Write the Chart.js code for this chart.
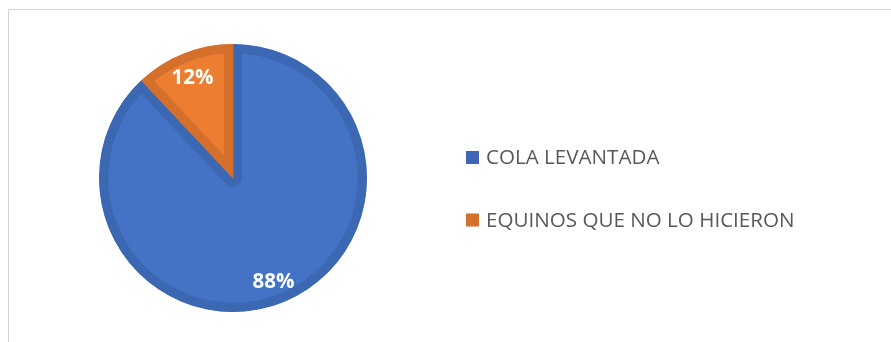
<!DOCTYPE html>
<html>
<head>
<meta charset="utf-8">
<script src="https://cdn.jsdelivr.net/npm/chart.js@4/dist/chart.umd.min.js"></script>
<style>
  html, body { margin: 0; padding: 0; background: #fff; }
  #wrap { position: relative; width: 891px; height: 342px; overflow: hidden; }
  #frame { position: absolute; left: 8px; top: 9px; width: 2000px; height: 2000px;
           border-left: 1px solid #d4d4d4; border-top: 1px solid #d4d4d4; box-sizing: border-box; }
  canvas { position: absolute; left: 0; top: 0; }
</style>
</head>
<body>
<div id="wrap">
  <div id="frame"></div>
  <canvas id="c" width="891" height="342"></canvas>
</div>
<script>
const categories = ["COLA LEVANTADA", "EQUINOS QUE NO LO HICIERON"];
const values = [88, 12];
const percentLabels = ["88%", "12%"];
const fillColors = ["#4472C4", "#ED7D31"];
const borderColors = ["#3C67B3", "#D46F2C"];

const labelPlugin = {
  id: 'sliceLabels',
  afterDatasetsDraw(chart) {
    const ctx = chart.ctx;
    const meta = chart.getDatasetMeta(0);
    ctx.save();
    ctx.font = 'bold 20.5px "Open Sans"';
    ctx.fillStyle = '#ffffff';
    ctx.textAlign = 'center';
    ctx.textBaseline = 'middle';
    meta.data.forEach((arc, i) => {
      const p = arc.getProps(['x', 'y', 'startAngle', 'endAngle', 'outerRadius'], true);
      const mid = (p.startAngle + p.endAngle) / 2;
      const r = p.outerRadius * 0.82;
      ctx.fillText(percentLabels[i], p.x + Math.cos(mid) * r, p.y + Math.sin(mid) * r + 2);
    });
    ctx.restore();
  }
};

const legendPlugin = {
  id: 'sideLegend',
  afterDraw(chart) {
    const ctx = chart.ctx;
    ctx.save();
    ctx.font = '20.6px "Open Sans"';
    ctx.textBaseline = 'middle';
    ctx.textAlign = 'left';
    const x0 = 466, y0 = 157.5, step = 62.5;
    chart.data.labels.forEach((lab, i) => {
      const y = y0 + i * step;
      ctx.fillStyle = chart.data.datasets[0].borderColor[i];
      ctx.fillRect(x0, y - 6.5, 13, 13);
      ctx.fillStyle = '#595959';
      ctx.fillText(lab, x0 + 20, y + 1);
    });
    ctx.restore();
  }
};

new Chart(document.getElementById('c'), {
  type: 'pie',
  data: {
    labels: categories,
    datasets: [{
      data: values,
      backgroundColor: fillColors,
      borderColor: borderColors,
      borderWidth: 9,
      borderAlign: 'inner'
    }]
  },
  options: {
    responsive: false,
    animation: false,
    layout: { padding: { left: 99, right: 524, top: 44, bottom: 30 } },
    plugins: {
      legend: { display: false },
      tooltip: { enabled: false }
    }
  },
  plugins: [labelPlugin, legendPlugin]
});
</script>
</body>
</html>
